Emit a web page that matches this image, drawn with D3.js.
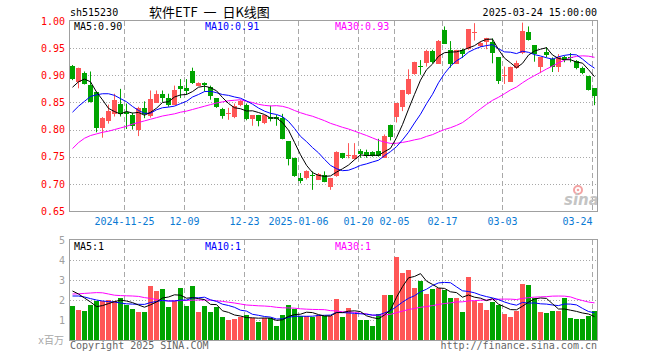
<!DOCTYPE html>
<html>
<head>
<meta charset="utf-8">
<script src="https://cdn.jsdelivr.net/npm/d3@7"></script>
<style>
  body { margin: 0; background: #fff; }
  svg { display: block; }
</style>
</head>
<body>
<svg id="sg"></svg>
<script>
// trading days shown on the chart
const dates = [
  "2024-11-12","2024-11-13","2024-11-14","2024-11-15",
  "2024-11-18","2024-11-19","2024-11-20","2024-11-21","2024-11-22",
  "2024-11-25","2024-11-26","2024-11-27","2024-11-28","2024-11-29",
  "2024-12-02","2024-12-03","2024-12-04","2024-12-05","2024-12-06",
  "2024-12-09","2024-12-10","2024-12-11","2024-12-12","2024-12-13",
  "2024-12-16","2024-12-17","2024-12-18","2024-12-19","2024-12-20",
  "2024-12-23","2024-12-24","2024-12-25","2024-12-26","2024-12-27",
  "2024-12-30","2024-12-31","2025-01-02","2025-01-03",
  "2025-01-06","2025-01-07","2025-01-08","2025-01-09","2025-01-10",
  "2025-01-13","2025-01-14","2025-01-15","2025-01-16","2025-01-17",
  "2025-01-20","2025-01-21","2025-01-22","2025-01-23","2025-01-24",
  "2025-01-27","2025-02-05","2025-02-06","2025-02-07",
  "2025-02-10","2025-02-11","2025-02-12","2025-02-13","2025-02-14",
  "2025-02-17","2025-02-18","2025-02-19","2025-02-20","2025-02-21",
  "2025-02-24","2025-02-25","2025-02-26","2025-02-27","2025-02-28",
  "2025-03-03","2025-03-04","2025-03-05","2025-03-06","2025-03-07",
  "2025-03-10","2025-03-11","2025-03-12","2025-03-13","2025-03-14",
  "2025-03-17","2025-03-18","2025-03-19","2025-03-20","2025-03-21",
  "2025-03-24"
];

const open = [
  .917,.887,.904,.883,.870,.802,.815,.829,.848,.832,
  .826,.800,.840,.824,.850,.866,.858,.846,.881,.876,
  .908,.881,.886,.878,.858,.837,.829,.823,.844,.846,
  .818,.826,.811,.823,.824,.821,.779,.748,.711,.710,
  .717,.708,.717,.694,.714,.757,.752,.746,.761,.758,
  .758,.761,.749,.808,.823,.841,.866,.903,.917,.922,
  .944,.922,.984,.947,.922,.947,.948,.979,.953,.960,
  .962,.933,.899,.889,.913,.941,.979,.955,.915,.942,
  .930,.915,.933,.933,.927,.914,.898,.876
];
const high = [
  .919,.914,.907,.907,.870,.823,.846,.866,.875,.848,
  .831,.842,.852,.872,.872,.872,.866,.881,.893,.893,
  .914,.887,.887,.881,.858,.840,.840,.848,.854,.848,
  .826,.827,.826,.844,.827,.829,.779,.748,.720,.725,
  .723,.720,.723,.711,.760,.757,.775,.775,.764,.763,
  .760,.783,.791,.809,.849,.873,.911,.925,.928,.947,
  .947,.965,.990,.963,.947,.949,.985,.996,.962,.969,
  .968,.933,.916,.916,.927,.997,.990,.955,.933,.952,
  .933,.939,.936,.941,.928,.916,.898,.876
];
const low = [
  .891,.876,.883,.850,.795,.785,.811,.824,.824,.801,
  .800,.788,.821,.822,.849,.851,.842,.845,.858,.864,
  .884,.880,.870,.855,.840,.820,.818,.821,.843,.817,
  .807,.806,.810,.815,.807,.782,.734,.713,.701,.708,
  .689,.707,.703,.689,.713,.746,.747,.745,.748,.748,
  .750,.750,.748,.780,.813,.834,.864,.901,.901,.916,
  .922,.921,.958,.914,.921,.932,.947,.964,.952,.948,
  .922,.884,.884,.889,.912,.939,.964,.925,.904,.933,
  .906,.906,.924,.924,.911,.902,.872,.845
];
const close = [
  .893,.913,.884,.852,.804,.821,.834,.855,.829,.828,
  .806,.840,.829,.856,.866,.859,.846,.873,.875,.870,
  .886,.886,.883,.861,.841,.824,.831,.844,.852,.820,
  .826,.815,.826,.820,.820,.783,.745,.714,.706,.723,
  .716,.719,.705,.710,.758,.747,.753,.754,.755,.751,
  .751,.751,.789,.785,.849,.872,.893,.925,.916,.945,
  .924,.964,.959,.922,.947,.939,.985,.980,.959,.968,
  .941,.889,.901,.916,.922,.982,.965,.938,.933,.936,
  .915,.933,.927,.932,.915,.905,.873,.862
];
// volume, millions
const volume = [
  1.70,1.50,1.45,1.75,1.95,1.95,2.00,1.95,2.10,1.75,
  1.55,1.40,1.40,2.70,2.45,2.55,1.65,1.95,2.60,1.70,
  2.70,1.40,1.70,1.40,1.65,1.15,1.00,1.05,1.15,1.25,
  1.10,0.90,1.10,1.10,0.70,1.25,1.75,1.55,1.20,1.20,
  1.15,1.25,1.20,1.20,2.05,1.15,1.60,1.30,1.00,1.00,
  0.70,1.30,2.25,2.25,4.17,3.37,3.50,2.60,2.95,2.30,
  2.55,2.60,2.50,2.10,2.10,1.40,3.15,1.95,1.85,1.50,
  1.90,1.75,1.30,1.15,1.45,2.80,2.75,2.10,1.40,1.35,
  1.45,1.45,2.10,1.10,1.05,1.05,1.20,1.45
];

// moving average values before enough history is on screen
const ma5Head = [.878,.888,.893,.888];
const ma10Head = [.832,.843,.852,.861,.864,.866,.866,.863,.857];
const ma30Head = [
  .765,.776,.784,.789,.792,.795,.797,.800,.803,.806,
  .810,.813,.816,.819,.822,.825,.827,.829,.832,.834,
  .837,.840,.843,.846,.849,.851,.853,.854,.855
];
const vma5Head = [2.45,2.30,2.10,1.90];
const vma10Head = [2.20,2.20,2.15,2.07,2.00,1.95,1.92,1.90,1.85];
const vma30Head = [
  2.30,2.31,2.33,2.35,2.37,2.36,2.30,2.24,2.22,2.21,
  2.20,2.18,2.12,2.08,2.02,1.97,1.95,1.96,1.97,1.98,
  1.99,2.00,2.00,1.99,1.96,1.93,1.89,1.85,1.80
];

const tickDates = ["2024-11-25","2024-12-09","2024-12-23","2025-01-06","2025-01-20","2025-02-05","2025-02-17","2025-03-03","2025-03-24"];
const tickLabels = ["2024-11-25","12-09","12-23","2025-01-06","01-20","02-05","02-17","03-03","03-24"];
const priceTicks = [0.65,0.70,0.75,0.80,0.85,0.90,0.95,1.00];
const volTicks = [1,2,3,4,5];

const mono = "'DejaVu Sans Mono', 'Noto Sans CJK SC', monospace";
const upColor = "#ff5656", downColor = "#00a400";

function movingAvg(values, n, head) {
  return values.map(function(v, i) {
    return i < n - 1 ? head[i] : d3.mean(values.slice(i - n + 1, i + 1));
  });
}

let svg = d3.select("#sg").attr("width", 660).attr("height", 360);

let x = d3.scaleBand().domain(dates).range([70, 597]).paddingInner(1 / 6);
let y = d3.scaleLinear().domain([0.65, 1.0]).range([211, 21]);
let yv = d3.scaleLinear().domain([0, 5]).range([340, 240]);

let candles = dates.map(function(d, i) {
  return { date: d, o: open[i], h: high[i], l: low[i], c: close[i], v: volume[i] };
});

// grid lines
let grid = svg.append("g");
grid.selectAll(".hp")
  .data(priceTicks.filter(function(t) { return t > 0.66 && t < 0.99; }))
  .enter().append("line")
  .attr("x1", 70).attr("x2", 597)
  .attr("y1", function(d) { return Math.round(y(d)) + 0.5; })
  .attr("y2", function(d) { return Math.round(y(d)) + 0.5; })
  .attr("stroke", "#a8a8a8").attr("stroke-dasharray", "1,2");
grid.selectAll(".hv")
  .data(volTicks.filter(function(t) { return t < 5; }))
  .enter().append("line")
  .attr("x1", 70).attr("x2", 597)
  .attr("y1", function(d) { return Math.round(yv(d)) + 0.5; })
  .attr("y2", function(d) { return Math.round(yv(d)) + 0.5; })
  .attr("stroke", "#a8a8a8").attr("stroke-dasharray", "1,2");
[[21, 211], [240, 340]].forEach(function(r) {
  grid.selectAll(null)
    .data(tickDates)
    .enter().append("line")
    .attr("x1", function(d) { return x(d) + 0.5; })
    .attr("x2", function(d) { return x(d) + 0.5; })
    .attr("y1", r[0]).attr("y2", r[1])
    .attr("stroke", "#a8a8a8").attr("stroke-dasharray", "5,3");
});

// sina logo
let logo = svg.append("g");
logo.append("circle").attr("cx", 578).attr("cy", 190).attr("r", 4)
  .attr("fill", "none").attr("stroke", "#f3a3a3").attr("stroke-width", 2);
logo.append("circle").attr("cx", 578).attr("cy", 190).attr("r", 1.3).attr("fill", "#f3a3a3");
logo.append("text").attr("x", 564).attr("y", 205)
  .attr("font-family", "'DejaVu Sans', sans-serif").attr("font-size", 15)
  .attr("font-weight", "bold").attr("font-style", "italic")
  .attr("fill", "#c4c4c4").text("sina");

// candles
let cg = svg.append("g");
cg.selectAll("line")
  .data(candles)
  .enter().append("line")
  .attr("x1", function(d) { return x(d.date) + 2.5; })
  .attr("x2", function(d) { return x(d.date) + 2.5; })
  .attr("y1", function(d) { return y(d.h); })
  .attr("y2", function(d) { return y(d.l); })
  .attr("stroke", function(d) { return d.c >= d.o ? upColor : downColor; });
cg.selectAll("rect")
  .data(candles)
  .enter().append("rect")
  .attr("x", function(d) { return x(d.date); })
  .attr("width", x.bandwidth())
  .attr("y", function(d) { return Math.round(y(Math.max(d.o, d.c))); })
  .attr("height", function(d) {
    return Math.max(1, Math.round(Math.abs(y(d.o) - y(d.c))));
  })
  .attr("fill", function(d) { return d.c >= d.o ? upColor : downColor; });

// volume bars
svg.append("g").selectAll("rect")
  .data(candles)
  .enter().append("rect")
  .attr("x", function(d) { return x(d.date); })
  .attr("width", x.bandwidth())
  .attr("y", function(d) { return Math.round(yv(d.v)); })
  .attr("height", function(d) { return 340 - Math.round(yv(d.v)); })
  .attr("fill", function(d) { return d.c >= d.o ? upColor : downColor; });

// moving averages
let priceLine = d3.line()
  .x(function(d, i) { return x(dates[i]) + 2.5; })
  .y(function(d) { return y(d); });
let volLine = d3.line()
  .x(function(d, i) { return x(dates[i]) + 2.5; })
  .y(function(d) { return yv(d); });
let maSets = [
  [movingAvg(close, 30, ma30Head), movingAvg(volume, 30, vma30Head), "#ff00ff"],
  [movingAvg(close, 10, ma10Head), movingAvg(volume, 10, vma10Head), "#0000ff"],
  [movingAvg(close, 5, ma5Head), movingAvg(volume, 5, vma5Head), "#000000"]
];
maSets.forEach(function(s) {
  svg.append("path").datum(s[0]).attr("fill", "none")
    .attr("stroke", s[2]).attr("stroke-width", 1).attr("d", priceLine);
  svg.append("path").datum(s[1]).attr("fill", "none")
    .attr("stroke", s[2]).attr("stroke-width", 1).attr("d", volLine);
});

// frames
svg.append("rect").attr("x", 69.5).attr("y", 20.5).attr("width", 528).attr("height", 191)
  .attr("fill", "none").attr("stroke", "#a0a0a0");
svg.append("rect").attr("x", 69.5).attr("y", 239.5).attr("width", 528).attr("height", 101)
  .attr("fill", "none").attr("stroke", "#a0a0a0");

// axes
let yAxis = d3.axisLeft(y).tickValues(priceTicks).tickFormat(d3.format(".2f")).tickSize(0).tickPadding(4);
let ya = svg.append("g").attr("transform", "translate(69,0)").call(yAxis);
ya.attr("font-family", mono).attr("font-size", 10);
ya.select(".domain").remove();
ya.selectAll("text").attr("fill", "#ff0000");

let vAxis = d3.axisLeft(yv).tickValues(volTicks).tickFormat(d3.format("d")).tickSize(0).tickPadding(4);
let va = svg.append("g").attr("transform", "translate(69,0)").call(vAxis);
va.attr("font-family", mono).attr("font-size", 10);
va.select(".domain").remove();
va.selectAll("text").attr("fill", "#a0a0a0");

let xAxis = d3.axisBottom(x).tickValues(tickDates)
  .tickFormat(function(d, i) { return tickLabels[i]; })
  .tickSize(0).tickPadding(7);
let xa = svg.append("g").attr("transform", "translate(-2,211)").call(xAxis);
xa.attr("font-family", mono).attr("font-size", 10);
xa.select(".domain").remove();
xa.selectAll("text").attr("fill", "#0a7ad4");
xa.selectAll("text").filter(function(d, i) { return i === tickDates.length - 1; })
  .attr("text-anchor", "end").attr("x", 0);

// texts
function label(tx, ty, str, color, anchor, size, family) {
  return svg.append("text").attr("x", tx).attr("y", ty)
    .attr("font-family", family || mono).attr("font-size", size || 10)
    .attr("text-anchor", anchor || "start").attr("fill", color).text(str);
}
label(70, 16, "sh515230", "#000");
label(149, 17, "软件ETF 一 日K线图", "#000", "start", 13, "'Noto Sans CJK SC', sans-serif")
  .attr("word-spacing", 3).style("white-space", "pre");
label(597, 16, "2025-03-24 15:00:00", "#000", "end");
label(74, 29.5, "MA5:0.90", "#000");
label(205, 29.5, "MA10:0.91", "#0000ff");
label(335, 29.5, "MA30:0.93", "#ff00ff");
label(74, 249.5, "MA5:1", "#000");
label(205, 249.5, "MA10:1", "#0000ff");
label(335, 249.5, "MA30:1", "#ff00ff");
label(64, 344, "x百万", "#a8a8a8", "end");
label(70, 349, "Copyright 2025 SINA.COM", "#666");
label(597, 349, "http://finance.sina.com.cn", "#666", "end");
</script>
</body>
</html>
